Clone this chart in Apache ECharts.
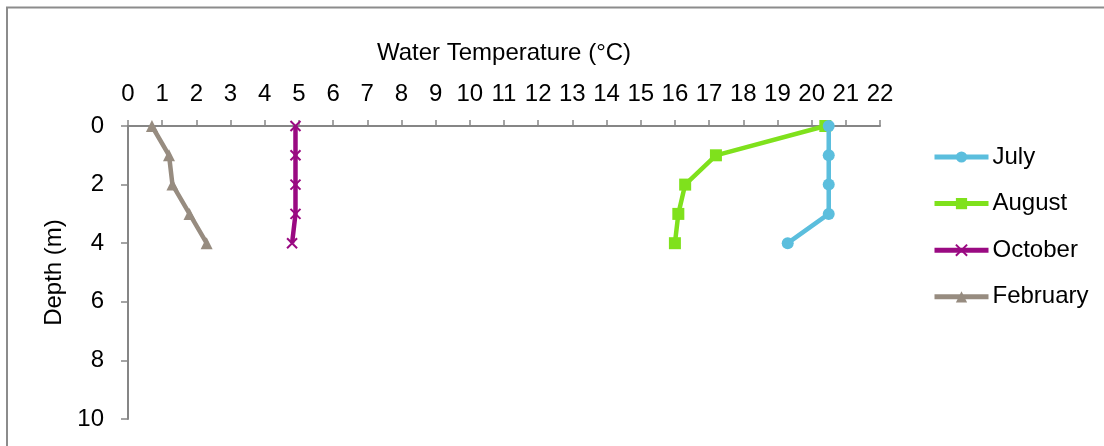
<!DOCTYPE html>
<html>
<head>
<meta charset="utf-8">
<script src="https://cdn.jsdelivr.net/npm/echarts@6/dist/echarts.min.js"></script>
<style>
  html, body { margin: 0; padding: 0; background: #fff; }
  #chart { width: 1104px; height: 446px; }
</style>
</head>
<body>
<div id="chart"></div>
<script>
// Depth profile of water temperature by month
const depths = [0, 1, 2, 3, 4];
const july = [20.5, 20.5, 20.5, 20.5, 19.3];
const august = [20.4, 17.2, 16.3, 16.1, 16.0];
const october = [4.9, 4.9, 4.9, 4.9, 4.8];
const february = [0.7, 1.2, 1.3, 1.8, 2.3];
const monthNames = ['July', 'August', 'October', 'February'];

const FONT = 'Liberation Sans, Arial, sans-serif';
const FONT_SIZE = 24;
const AXIS_GRAY = '#868686';

function pairs(temps) {
  return temps.map((t, i) => [t, depths[i]]);
}

const styles = [
  { color: '#5bbedd', symbol: 'circle', size: 12 },
  { color: '#7fe11c', symbol: 'rect', size: 12 },
  { color: '#9a0a82', symbol: 'path://M0,0 L10,10 M10,0 L0,10', size: 10 },
  { color: '#978c80', symbol: 'triangle', size: 12 }
];
const values = [july, august, october, february];

const chart = echarts.init(document.getElementById('chart'), null, { renderer: 'canvas' });

chart.setOption({
  animation: false,
  backgroundColor: '#fff',
  textStyle: { fontFamily: FONT },
  graphic: [{
    type: 'rect',
    shape: { x: 7, y: 7.5, width: 1200, height: 600 },
    style: { fill: 'none', stroke: '#8c8c8c', lineWidth: 2 },
    silent: true
  }],
  grid: { left: 128, top: 126, width: 752, height: 293 },
  legend: {
    orient: 'vertical',
    left: 927,
    top: 140,
    itemWidth: 54,
    itemHeight: 14,
    itemGap: 22.6,
    lineStyle: { width: 5 },
    textStyle: { fontFamily: FONT, fontSize: FONT_SIZE, color: '#000', lineHeight: 24, padding: [0, 0, 0, -1] },
    data: monthNames
  },
  xAxis: {
    type: 'value',
    position: 'top',
    min: 0,
    max: 22,
    interval: 1,
    name: 'Water Temperature (°C)',
    nameLocation: 'middle',
    nameGap: 61,
    nameTextStyle: { fontFamily: FONT, fontSize: FONT_SIZE, color: '#000' },
    axisLine: { show: true, lineStyle: { color: AXIS_GRAY, width: 2 } },
    axisTick: { show: true, length: 6, lineStyle: { color: AXIS_GRAY, width: 1.5 } },
    axisLabel: { fontFamily: FONT, fontSize: FONT_SIZE, color: '#000', margin: 20 },
    splitLine: { show: false }
  },
  yAxis: {
    type: 'value',
    inverse: true,
    min: 0,
    max: 10,
    interval: 2,
    name: 'Depth (m)',
    nameLocation: 'middle',
    nameGap: 59,
    nameRotate: 90,
    nameTextStyle: { fontFamily: FONT, fontSize: FONT_SIZE, color: '#000' },
    axisLine: { show: true, lineStyle: { color: AXIS_GRAY, width: 2 } },
    axisTick: { show: true, length: 7, lineStyle: { color: AXIS_GRAY, width: 1.5 } },
    axisLabel: { fontFamily: FONT, fontSize: FONT_SIZE, color: '#000', margin: 24 },
    splitLine: { show: false }
  },
  series: monthNames.map((name, k) => ({
    name: name,
    type: 'line',
    data: pairs(values[k]),
    symbol: styles[k].symbol,
    symbolSize: styles[k].size,
    showAllSymbol: true,
    lineStyle: { color: styles[k].color, width: 4.5 },
    itemStyle: k === 2
      ? { color: styles[k].color, borderColor: styles[k].color, borderWidth: 2 }
      : { color: styles[k].color },
    z: 2 + (3 - k)
  }))
});
</script>
</body>
</html>
